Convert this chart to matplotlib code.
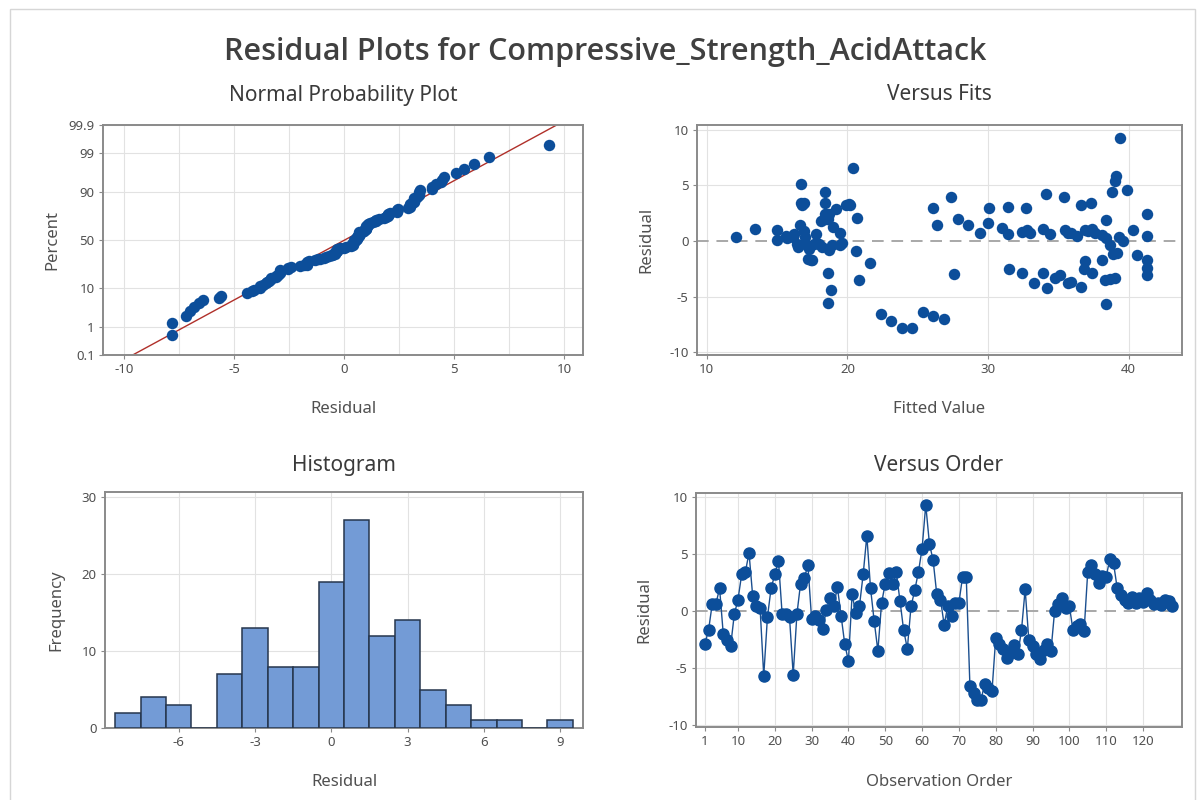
import numpy as np
import matplotlib
matplotlib.use('Agg')
import matplotlib.pyplot as plt
from matplotlib.patches import Rectangle
from statistics import NormalDist

plt.rcParams['font.family'] = ['Noto Sans', 'DejaVu Sans']
plt.rcParams['axes.unicode_minus'] = False

# residui in ordine di osservazione (1..128)
residuals = [
    -2.9, -1.7, 0.6, 0.6, 2.0, -2.0, -2.55, -3.1, -0.3, 1.0,
    3.2, 3.4, 5.1, 1.3, 0.4, 0.3, -5.7, -0.55, 2.0, 3.2,
    4.4, -0.3, -0.3, -0.55, -5.6, -0.3, 2.4, 2.9, 4.0, -0.7,
    -0.4, -0.8, -1.6, 0.1, 1.1, 0.4, 2.1, -0.4, -2.9, -4.4,
    1.45, -0.2, 0.45, 3.2, 6.6, 2.0, -0.9, -3.5, 0.7, 2.4,
    3.3, 2.4, 3.4, 0.9, -1.7, -3.3, 0.4, 1.8, 3.4, 5.45,
    9.3, 5.9, 4.45, 1.45, 1.0, -1.2, 0.45, -0.4, 0.7, 0.7,
    3.0, 3.0, -6.6, -7.2, -7.8, -7.8, -6.4, -6.8, -7.0, -2.4,
    -2.9, -3.3, -4.1, -3.7, -3.0, -3.8, -1.7, 1.9, -2.55, -3.1,
    -3.8, -4.2, -3.4, -2.9, -3.55, 0.0, 0.6, 1.1, 0.3, 0.45,
    -1.7, -1.3, -1.1, -1.8, 3.45, 4.0, 3.2, 2.45, 3.1, 3.0,
    4.55, 4.2, 2.0, 1.4, 1.0, 0.7, 1.2, 0.7, 1.1, 0.8,
    1.6, 1.0, 0.6, 0.7, 0.55, 1.0, 0.9, 0.4,
]

# valori stimati (fitted) per ogni osservazione
fitted = [
    32.4, 17.4, 16.2, 17.8, 18.3, 21.6, 31.5, 35.1, 16.4, 15.0,
    19.9, 16.7, 16.7, 19.0, 12.1, 15.7, 38.4, 16.5, 18.6, 16.8,
    18.4, 17.0, 17.6, 18.2, 18.6, 18.0, 18.5, 19.2, 27.4, 17.3,
    18.9, 18.7, 17.2, 15.0, 13.4, 16.1, 20.7, 19.5, 18.6, 18.8,
    16.6, 19.6, 15.6, 20.2, 20.4, 18.5, 20.6, 20.8, 19.5, 18.4,
    20.1, 18.7, 16.9, 16.9, 17.5, 39.0, 17.0, 18.1, 18.4, 39.0,
    39.4, 39.1, 38.8, 28.6, 32.8, 38.9, 41.3, 38.7, 29.4, 37.6,
    26.1, 30.1, 22.4, 23.1, 23.9, 24.6, 25.4, 26.1, 26.9, 41.3,
    37.4, 34.8, 36.6, 35.9, 27.6, 35.7, 41.3, 38.4, 36.8, 41.3,
    33.3, 34.2, 38.7, 33.9, 38.3, 39.6, 31.4, 37.4, 38.4, 36.3,
    38.1, 40.6, 39.2, 36.9, 37.3, 35.4, 36.6, 41.3, 31.4, 32.7,
    39.9, 34.1, 27.9, 26.4, 36.9, 33.0, 31.0, 35.7, 33.9, 32.4,
    30.0, 35.5, 34.4, 35.9, 38.1, 40.3, 37.1, 39.3,
]

prob_ticks = [0.1, 1, 10, 50, 90, 99, 99.9]
prob_labels = ['0.1', '1', '10', '50', '90', '99', '99.9']
hist_ticks = [-6, -3, 0, 3, 6, 9]
order_ticks = [1, 10, 20, 30, 40, 50, 60, 70, 80, 90, 100, 110, 120]

W, H = 1202, 800
blue = '#0c4e9a'
text_dark = '#3a3a3a'
text_mid = '#505050'

res = np.array(residuals)
fit = np.array(fitted)
n = len(res)
obs = np.arange(1, n + 1)
nd = NormalDist()


def rect(x0, y0, x1, y1):
    # pixel box -> coordinate figura
    return [x0 / W, 1 - y1 / H, (x1 - x0) / W, (y1 - y0) / H]


def style(ax):
    for s in ax.spines.values():
        s.set_color('#8a8a8a')
        s.set_linewidth(1.4)
    ax.tick_params(which='major', colors='#8a8a8a', labelcolor=text_mid,
                   labelsize=9.5, length=3, width=0.8, pad=3)
    ax.tick_params(which='minor', length=0)
    ax.set_axisbelow(True)
    ax.grid(True, which='both', color='#e2e2e2', lw=0.8)


def label(x, y, s, rot=0):
    fig.text(x / W, 1 - y / H, s, ha='center', va='center', rotation=rot,
             fontsize=12, color=text_mid)


def title(x, y, s):
    fig.text(x / W, 1 - y / H, s, ha='center', va='center',
             fontsize=15, color=text_dark)


fig = plt.figure(figsize=(W / 100, H / 100), dpi=100)
fig.patches.append(Rectangle((10 / W, -0.01), 1185 / W, 1 - 9 / H + 0.01,
                             transform=fig.transFigure, fill=False,
                             edgecolor='#d6d6d6', lw=1))

fig.text(605 / W, 1 - 52 / H, 'Residual Plots for Compressive_Strength_AcidAttack',
         ha='center', va='center', fontsize=22, fontweight=600,
         family=['Open Sans', 'Roboto', 'DejaVu Sans'], color='#404040')

# Normal probability plot
ax1 = fig.add_axes(rect(103, 125, 583, 355))
style(ax1)
srt = np.sort(res)
pp = (np.arange(1, n + 1) - 0.3) / (n + 0.4)
zz = np.array([nd.inv_cdf(p) for p in pp])
ax1.scatter(srt, zz, s=68, color=blue, zorder=3, linewidths=0)
mu, sd = res.mean(), res.std(ddof=1)
zl = np.array([nd.inv_cdf(0.0005), nd.inv_cdf(0.9995)])
ax1.plot(mu + sd * zl, zl, color='#b0302a', lw=1.0, zorder=2)
ax1.set_yticks([nd.inv_cdf(p / 100) for p in prob_ticks])
ax1.set_yticklabels(prob_labels)
ax1.set_ylim(nd.inv_cdf(0.001), nd.inv_cdf(0.999))
ax1.set_xticks([-10, -5, 0, 5, 10])
ax1.set_xticks(np.arange(-10, 10.1, 2.5), minor=True)
ax1.set_xlim(-10.95, 10.86)
title(343, 95, 'Normal Probability Plot')
label(343, 409, 'Residual')
label(52, 240, 'Percent', 90)

# Versus fits
ax2 = fig.add_axes(rect(697, 125, 1182, 355))
style(ax2)
ax2.scatter(fit, res, s=68, color=blue, zorder=3, linewidths=0)
ax2.axhline(0, color='#a8a8a8', lw=1.4, ls=(0, (6, 4)), zorder=2)
ax2.set_xticks([10, 20, 30, 40])
ax2.set_yticks([-10, -5, 0, 5, 10])
ax2.set_xlim(9.3, 43.8)
ax2.set_ylim(-10.27, 10.45)
ax2.grid(False, axis='y')
for yv in (-10, -5, 5, 10):
    ax2.axhline(yv, color='#e2e2e2', lw=0.8, zorder=0)
title(939, 95, 'Versus Fits')
label(939, 409, 'Fitted Value')
label(646, 240, 'Residual', 90)

# Histogram
ax3 = fig.add_axes(rect(105, 492, 583, 728))
style(ax3)
ax3.hist(res, bins=np.arange(-8.5, 10.0, 1.0), color='#739bd6',
         edgecolor='#26364d', linewidth=1.1, zorder=3)
ax3.set_xticks(hist_ticks)
ax3.set_yticks([0, 10, 20, 30])
ax3.set_xlim(-8.9, 9.9)
ax3.set_ylim(0, 30.7)
title(344, 465, 'Histogram')
label(344, 782, 'Residual')
label(56, 610, 'Frequency', 90)

# Versus order
ax4 = fig.add_axes(rect(696, 493, 1182, 727))
style(ax4)
ax4.plot(obs, res, color='#1b4f8f', lw=1.0, marker='o', ms=8,
         mfc=blue, mec=blue, zorder=3)
ax4.axhline(0, color='#a8a8a8', lw=1.4, ls=(0, (6, 4)), zorder=2)
ax4.set_xticks(order_ticks)
ax4.set_yticks([-10, -5, 0, 5, 10])
ax4.set_xlim(-1.4, 130.6)
ax4.set_ylim(-10.18, 10.35)
ax4.grid(False, axis='y')
for yv in (-10, -5, 5, 10):
    ax4.axhline(yv, color='#e2e2e2', lw=0.8, zorder=0)
title(939, 465, 'Versus Order')
label(939, 782, 'Observation Order')
label(644, 610, 'Residual', 90)

fig.savefig('out.png', dpi=100)
